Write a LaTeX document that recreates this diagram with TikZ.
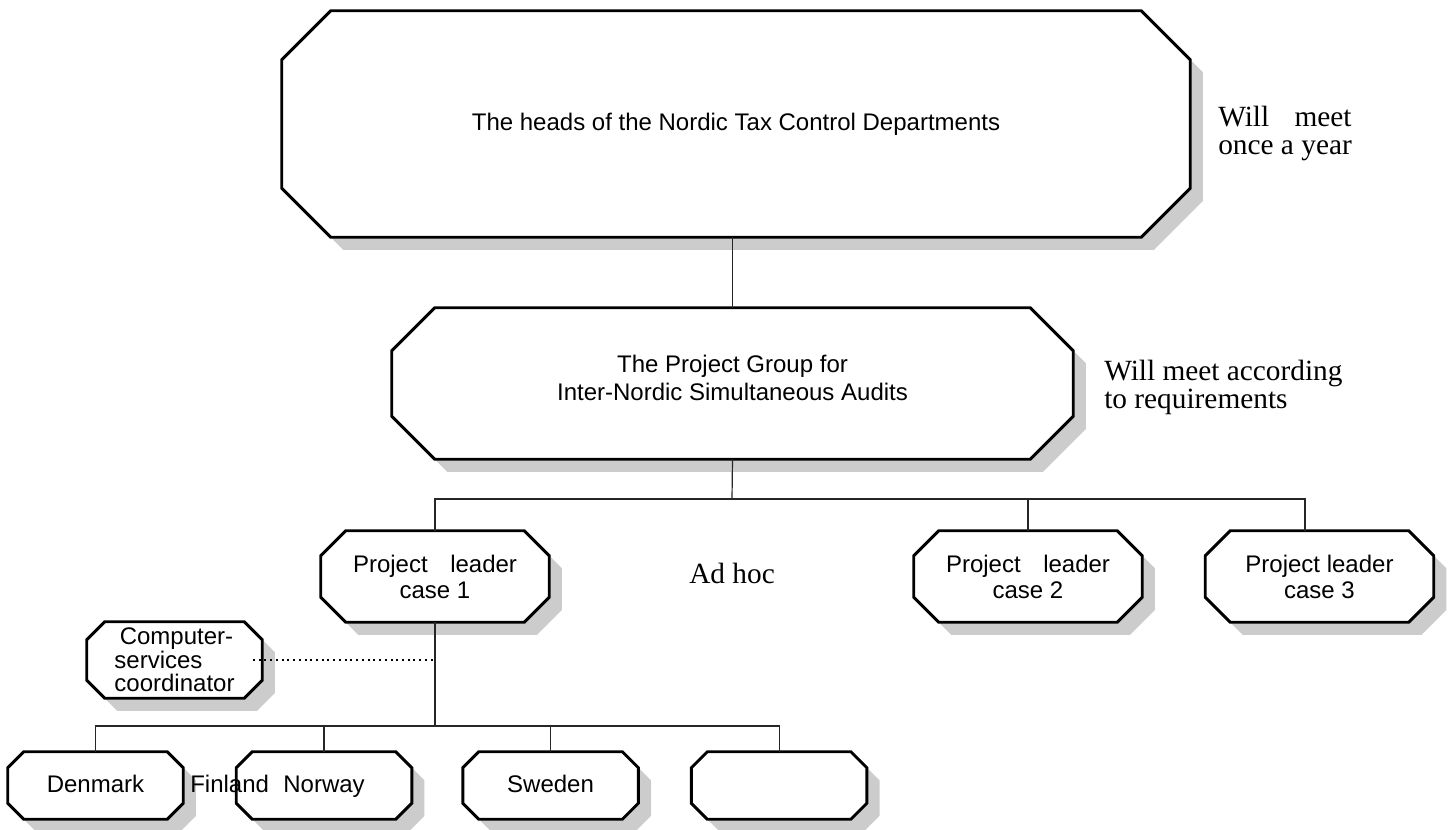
\documentclass[tikz,border=0pt]{standalone}
\usepackage{fontspec}
\setmainfont{Liberation Serif}
\setsansfont{Liberation Sans}
\usetikzlibrary{positioning,calc}

\pgfdeclarelayer{background}
\pgfsetlayers{background,main}

% octagono alrededor de un nodo: nodo, corte, desplazamiento
\newcommand{\octpath}[3]{($(#1.north west)+(#2+#3,-#3)$) -- ($(#1.north east)+(-#2+#3,-#3)$)
  -- ($(#1.north east)+(#3,-#2-#3)$) -- ($(#1.south east)+(#3,#2-#3)$)
  -- ($(#1.south east)+(-#2+#3,-#3)$) -- ($(#1.south west)+(#2+#3,-#3)$)
  -- ($(#1.south west)+(#3,#2-#3)$) -- ($(#1.north west)+(#3,-#2-#3)$) -- cycle}

\tikzset{
  octbox/.style={rectangle, inner sep=0pt, align=center,
    font=\sffamily\fontsize{18}{21}\selectfont},
  leader/.style={minimum width=171pt, minimum height=68.25pt,
    font=\sffamily\fontsize{18}{19.5}\selectfont},
  country/.style={minimum width=131.25pt, minimum height=50.25pt,
    text height=13.5pt, text depth=2.3pt},
  boxline/.style={draw, line width=2.2pt, fill=white},
  shade/.style={fill=black!20},
  link/.style={line width=0.9pt, black!85},
  dotline/.style={line width=1.5pt, dash pattern=on 1.5pt off 2.8pt},
  note/.style={font=\fontsize{22}{21.5}\selectfont, align=left, inner sep=0pt},
}

\begin{document}
\begin{tikzpicture}[x=0.75pt, y=-0.75pt]
  \useasboundingbox (0,0) rectangle (1454,830);

  % Nodos de arriba
  \node[octbox, minimum width=681pt, minimum height=169.5pt] (heads) at (736,124)
    {The heads of the Nordic Tax Control Departments};
  \node[octbox, minimum width=510.75pt, minimum height=113.25pt]
    (group) at (732.5,383.5)
    {The Project Group for\\Inter-Nordic Simultaneous Audits\rule[-7.9pt]{0pt}{0pt}};

  % Jefes de proyecto
  \node[octbox, leader] (pl1) at (435,576.5) {\makebox[123pt][s]{Project leader}\\case 1};
  \node[octbox, leader] (pl2) at (1028,576.5) {\makebox[123pt][s]{Project leader}\\case 2};
  \node[octbox, leader] (pl3) at (1319.5,576.5) {Project leader\\case 3};

  % Coordinador
  \node[octbox, minimum width=131.25pt, minimum height=57pt, align=left,
    font=\sffamily\fontsize{18}{17.6}\selectfont] (coord) at (174.5,660)
    {\hspace*{4pt}Computer-\\services\\coordinator};

  % Paises
  \node[octbox, country] (denmark) at (95.5,785.5) {Denmark};
  \node[octbox, country, right=39.75pt of denmark] (norway) {Norway};
  \node[octbox, country, right=38.25pt of norway] (sweden) {Sweden};
  \node[octbox, country, right=39.75pt of sweden] (blank) {};

  % Cajas con sombra
  \begin{pgfonlayer}{background}
    \foreach \n/\c in {heads/36.75pt, group/32.25pt, pl1/18.75pt, pl2/18.75pt,
        pl3/18.75pt, coord/13.5pt, denmark/12pt, norway/12pt, sweden/12pt, blank/12pt} {
      \path[shade] \octpath{\n}{\c}{9.5pt};
      \path[boxline] \octpath{\n}{\c}{0pt};
    }
  \end{pgfonlayer}

  % Textos al margen
  \node[note, anchor=west] (yearly) at (1218,133.5) {\makebox[100pt][s]{Will meet}\\once a year};
  \node[note, anchor=west] (needs) at (1104,387.5) {Will meet according\\to requirements};
  \node[note, anchor=base west] (adhoc) at (689,584) {Ad hoc};
  \node[inner sep=0pt, anchor=base west, font=\sffamily\fontsize{18}{21}\selectfont]
    (finland) at (norway.base -| 190,0) {Finland};

  % Conexiones
  \coordinate (hub) at (732,499);
  \coordinate (hub2) at (435,726);
  \coordinate (pl3drop) at (1305,531);
  \draw[link] (group.north) -- (group.north |- heads.south);
  \draw[link] (group.south) -- (hub);
  \draw[link] (pl1.north) |- (hub) -| (pl2.north);
  \draw[link] (hub) -| (pl3drop);
  \draw[link] (pl1.south) -- (hub2);
  \draw[link] (denmark.north) |- (hub2) -| (blank.north);
  \draw[link] (norway.north) -- (norway.north |- hub2);
  \draw[link] (sweden.north) -- (sweden.north |- hub2);
  \draw[dotline] ([xshift=-7pt]coord.east) -- (coord.east -| hub2);
\end{tikzpicture}
\end{document}
